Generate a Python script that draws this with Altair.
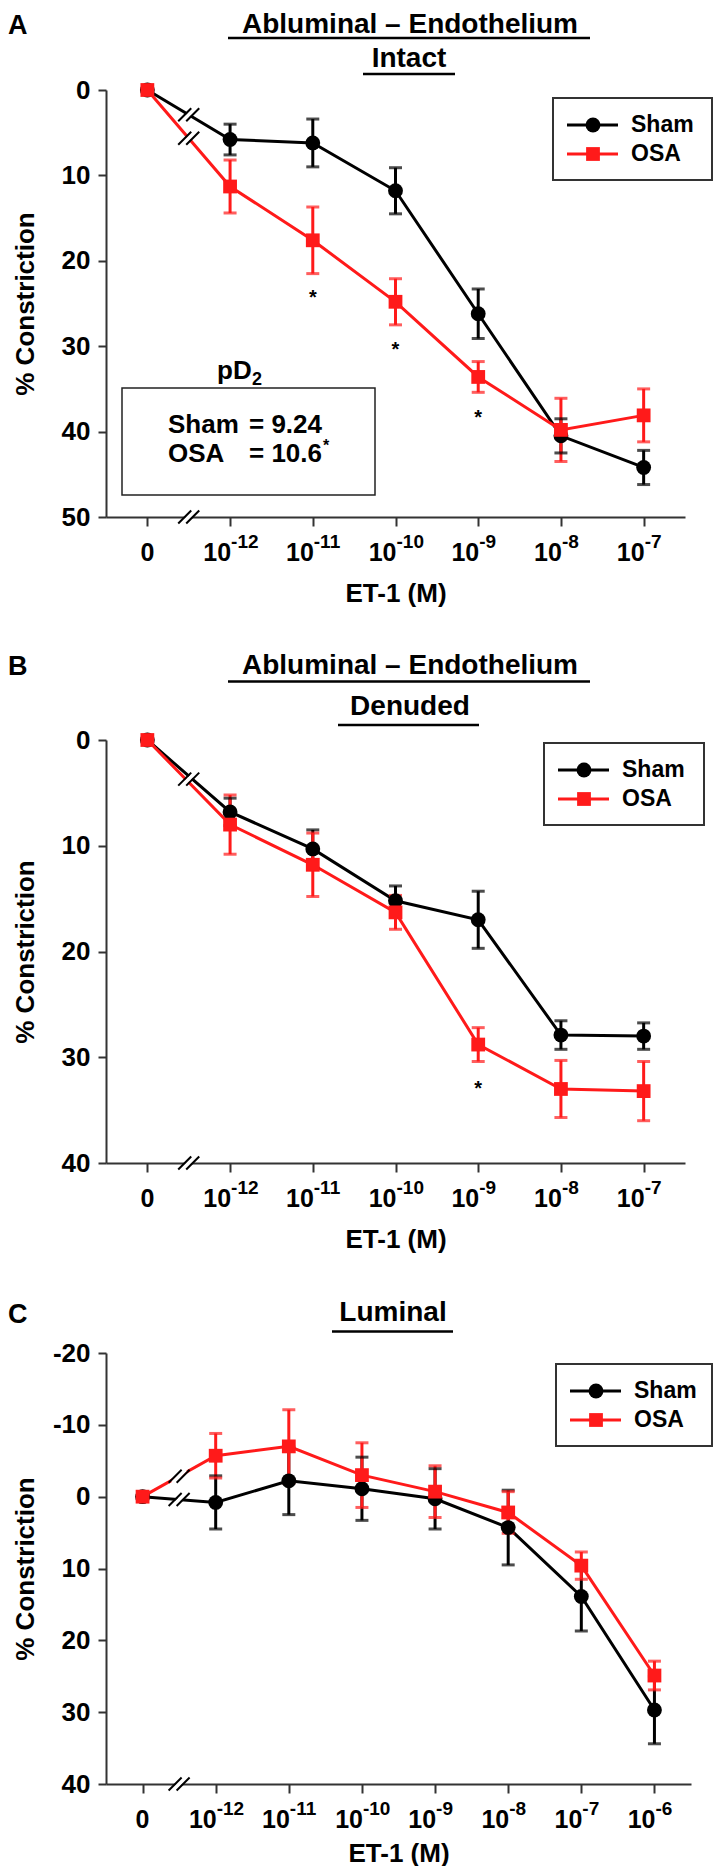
import altair as alt
import pandas as pd

FONT = "Liberation Sans"
RED = "#ff1a1a"
AXIS_COLOR = "#333333"

SERIES = ["Sham", "OSA"]
SERIES_COLORS = ["#000000", RED]
SERIES_SHAPES = ["circle", "square"]
MARK_SIZES = [220, 190]

# x categories: exponent of 10 ("" = zero concentration)
EXP_AB = ["", "-12", "-11", "-10", "-9", "-8", "-7"]
EXP_C = ["", "-12", "-11", "-10", "-9", "-8", "-7", "-6"]

# Panel A: abluminal, endothelium intact
A_SHAM = [0, 5.8, 6.2, 11.8, 26.2, 40.5, 44.2]
A_SHAM_SEM = [0, 1.8, 2.8, 2.7, 2.9, 2.0, 2.0]
A_OSA = [0, 11.3, 17.6, 24.8, 33.6, 39.8, 38.1]
A_OSA_SEM = [0, 3.1, 3.9, 2.7, 1.8, 3.7, 3.1]
A_STAR_IDX = [2, 3, 4]
A_STAR_Y = [23.8, 29.9, 37.8]
A_YTICKS = [0, 10, 20, 30, 40, 50]
A_PD2 = ["= 9.24", "= 10.6"]

# Panel B: abluminal, endothelium denuded
B_SHAM = [0, 6.8, 10.3, 15.2, 17.0, 27.9, 28.0]
B_SHAM_SEM = [0, 1.3, 1.8, 1.4, 2.7, 1.35, 1.25]
B_OSA = [0, 8.0, 11.8, 16.3, 28.8, 33.0, 33.2]
B_OSA_SEM = [0, 2.8, 3.0, 1.6, 1.6, 2.7, 2.8]
B_STAR_IDX = [4]
B_STAR_Y = [32.5]
B_YTICKS = [0, 10, 20, 30, 40]

# Panel C: luminal
C_SHAM = [0, 0.8, -2.2, -1.1, 0.3, 4.3, 13.9, 29.7]
C_SHAM_SEM = [0, 3.7, 4.7, 4.4, 4.2, 5.2, 4.8, 4.7]
C_OSA = [0, -5.7, -7.0, -3.0, -0.7, 2.2, 9.6, 24.9]
C_OSA_SEM = [0, 3.1, 5.1, 4.5, 3.6, 2.9, 1.9, 2.0]
C_YTICKS = [-20, -10, 0, 10, 20, 30, 40]

ONE = alt.Data(values=[{"k": 0}])


def note(text, x, y, size, align="center", baseline="middle"):
    return alt.Chart(ONE).mark_text(
        text=text, font=FONT, fontSize=size, fontWeight="bold",
        align=align, baseline=baseline, color="black"
    ).encode(x=alt.value(x), y=alt.value(y))


def hline(x1, x2, y, w=2.5, color="black"):
    return alt.Chart(ONE).mark_rule(color=color, strokeWidth=w).encode(
        x=alt.value(x1), x2=alt.value(x2), y=alt.value(y))


def legend_box(x0, y0, w=159, h=82):
    out = [alt.Chart(ONE).mark_rect(fill="white", stroke="#333333", strokeWidth=2).encode(
        x=alt.value(x0), x2=alt.value(x0 + w), y=alt.value(y0), y2=alt.value(y0 + h))]
    for k, (name, col, shp) in enumerate(zip(SERIES, SERIES_COLORS, SERIES_SHAPES)):
        yy = y0 + 27 + 29 * k
        out.append(hline(x0 + 14, x0 + 65, yy, w=3, color=col))
        out.append(alt.Chart(ONE).mark_point(
            shape=shp, filled=True, size=MARK_SIZES[k], color=col, opacity=1).encode(
            x=alt.value(x0 + 40), y=alt.value(yy)))
        out.append(alt.Chart(ONE).mark_text(
            text=name, font=FONT, fontSize=23, fontWeight="bold", color="black",
            align="left", baseline="middle").encode(
            x=alt.value(x0 + 78), y=alt.value(yy)))
    return out


def panel(sham, sham_sem, osa, osa_sem, exps, ydom, yticks, W, yrange,
          legend_xyw, star_idx, star_y, break_ys, annotations, under=(), xtitle_y=76):
    rows = []
    for name, m, s in ((SERIES[0], sham, sham_sem), (SERIES[1], osa, osa_sem)):
        for i, (v, e) in enumerate(zip(m, s)):
            rows.append({"series": name, "idx": i, "val": v,
                         "lo": v - e, "hi": v + e, "sem": e})
    df = pd.DataFrame(rows)
    ebdf = df[df["sem"] > 0]
    n = len(exps)
    H = yrange[1]

    xs = alt.Scale(domain=[-0.5, n - 0.5], nice=False, zero=False)
    ys = alt.Scale(domain=ydom, range=list(yrange), nice=False, zero=False)
    xaxis = alt.Axis(
        values=list(range(n)), labels=False, ticks=True, tickSize=9,
        tickWidth=2, tickColor=AXIS_COLOR, domainColor=AXIS_COLOR,
        domainWidth=2, grid=False, title="ET-1 (M)", titleFont=FONT,
        titleFontSize=26, titleFontWeight="bold", titleColor="black",
        titleY=xtitle_y, titleBaseline="middle")
    yaxis = alt.Axis(
        values=yticks, labelExpr="'' + datum.value", labelFont=FONT,
        labelFontSize=26, labelFontWeight="bold", labelColor="black",
        labelPadding=8, tickSize=8, tickWidth=2, tickColor=AXIS_COLOR,
        domainColor=AXIS_COLOR, domainWidth=2, grid=False,
        title="% Constriction", titleFont=FONT, titleFontSize=26,
        titleFontWeight="bold", titleColor="black", titleX=-81,
        titleY=(yrange[0] + yrange[1]) / 2, titleAngle=270, titleBaseline="middle")

    def X(f="idx"):
        return alt.X(f"{f}:Q", scale=xs, axis=xaxis)

    def Y(f="val"):
        return alt.Y(f"{f}:Q", scale=ys, axis=yaxis)

    color = alt.Color("series:N", scale=alt.Scale(domain=SERIES, range=SERIES_COLORS),
                      legend=None)

    layers = list(under)

    line = alt.Chart(df).mark_line(strokeWidth=3).encode(
        x=X(), y=Y(), color=color, order="idx:Q")
    layers.append(line)

    # axis / line break marks "//"
    bdf = pd.DataFrame({"bx": [0.5] * (len(break_ys) + 1),
                        "by": list(break_ys) + [ydom[1]]})
    brk = alt.Chart(bdf)
    benc = dict(x=X("bx"), x2="bx:Q", y=Y("by"), y2="by:Q")
    layers.append(brk.mark_rule(color="white", strokeWidth=4, xOffset=-6.5,
                                x2Offset=6.5, yOffset=6.5, y2Offset=-6.5).encode(**benc))
    layers.append(brk.mark_rule(color="black", strokeWidth=2, xOffset=-10.5,
                                x2Offset=2.5, yOffset=6.5, y2Offset=-6.5).encode(**benc))
    layers.append(brk.mark_rule(color="black", strokeWidth=2, xOffset=-2.5,
                                x2Offset=10.5, yOffset=6.5, y2Offset=-6.5).encode(**benc))

    eb = alt.Chart(ebdf)
    layers.append(eb.mark_rule(strokeWidth=3).encode(
        x=X(), y=Y("lo"), y2="hi:Q", color=color))
    layers.append(eb.mark_tick(orient="horizontal", size=13, thickness=3).encode(
        x=X(), y=Y("lo"), color=color))
    layers.append(eb.mark_tick(orient="horizontal", size=13, thickness=3).encode(
        x=X(), y=Y("hi"), color=color))

    pts = alt.Chart(df).mark_point(filled=True, opacity=1).encode(
        x=X(), y=Y(), color=color,
        shape=alt.Shape("series:N", scale=alt.Scale(domain=SERIES, range=SERIES_SHAPES),
                        legend=None),
        size=alt.Size("series:N", scale=alt.Scale(domain=SERIES, range=MARK_SIZES),
                      legend=None))
    layers.append(pts)

    if star_idx:
        sdf = pd.DataFrame({"sx": star_idx, "sy": star_y})
        layers.append(alt.Chart(sdf).mark_text(
            text="*", font=FONT, fontSize=20, fontWeight="bold", color="black",
            baseline="middle", dy=5).encode(x=X("sx"), y=Y("sy")))

    lab = pd.DataFrame({"idx": list(range(n)),
                        "base": ["0"] + ["10"] * (n - 1), "exp": exps})
    layers.append(alt.Chart(lab[lab["idx"] == 0]).mark_text(
        font=FONT, fontSize=25, fontWeight="bold", color="black",
        align="center", baseline="middle").encode(
        x=X(), y=alt.value(H + 35.5), text="base:N"))
    layers.append(alt.Chart(lab[lab["idx"] > 0]).mark_text(
        font=FONT, fontSize=25, fontWeight="bold", color="black",
        align="right", baseline="middle", dx=1).encode(
        x=X(), y=alt.value(H + 35.5), text="base:N"))
    layers.append(alt.Chart(lab[lab["idx"] > 0]).mark_text(
        font=FONT, fontSize=19, fontWeight="bold", color="black",
        align="left", baseline="middle", dx=1).encode(
        x=X(), y=alt.value(H + 24.5), text="exp:N"))

    layers.extend(legend_box(*legend_xyw))
    layers.extend(annotations)
    return alt.layer(*layers).properties(width=W, height=H)


def midpoints(a, b):
    return [(a[0] + a[1]) / 2.0, (b[0] + b[1]) / 2.0]


# ---------- Panel A (group top = page y 8) ----------
A_under = [
    hline(0, 1, 0.5, w=1, color="white"),  # keeps the panel's top edge at the page margin
    alt.Chart(ONE).mark_rect(fill="white", stroke="#222222", strokeWidth=1.5).encode(
        x=alt.value(16), x2=alt.value(269), y=alt.value(380), y2=alt.value(487)),
]
A_notes = [
    note("A", -98, 17.5, 27, align="left"),
    note("Abluminal \u2013 Endothelium", 304, 17, 28),
    hline(122, 484, 30),
    note("Intact", 303, 50.5, 28),
    hline(257, 349, 66),
    note("pD", 111, 363, 26, align="left"),
    note("2", 146, 372, 18, align="left"),
    note("Sham", 62, 417, 26, align="left"),
    note(A_PD2[0], 216, 417, 26, align="right"),
    note("OSA", 62, 446, 26, align="left"),
    note(A_PD2[1], 216, 446, 26, align="right"),
    note("*", 217, 438, 16, align="left"),
]
chartA = panel(A_SHAM, A_SHAM_SEM, A_OSA, A_OSA_SEM, EXP_AB, [0, 50], A_YTICKS,
               579, (82, 509), (447, 90, 159), A_STAR_IDX, A_STAR_Y,
               midpoints(A_SHAM, A_OSA), A_notes, A_under)

# ---------- Panel B (group top = page y 620) ----------
B_notes = [
    note("B", -98, 47, 27, align="left"),
    note("Abluminal \u2013 Endothelium", 304, 46, 28),
    hline(122, 484, 61.5),
    note("Denuded", 304, 87, 28),
    hline(232, 373, 105),
]
bm = midpoints(B_SHAM, B_OSA)
chartB = panel(B_SHAM, B_SHAM_SEM, B_OSA, B_OSA_SEM, EXP_AB, [0, 40], B_YTICKS,
               579, (120, 543), (438, 123, 160), B_STAR_IDX, B_STAR_Y,
               [sum(bm) / 2.0], B_notes)

# ---------- Panel C (group top = page y 1266) ----------
C_notes = [
    note("C", -98, 49, 27, align="left"),
    note("Luminal", 287, 47, 28),
    hline(226, 347, 65.5),
]
chartC = panel(C_SHAM, C_SHAM_SEM, C_OSA, C_OSA_SEM, EXP_C, [-20, 40], C_YTICKS,
               585, (87, 518), (450, 98, 156), [], [],
               midpoints(C_SHAM, C_OSA), C_notes, xtitle_y=69)

chart = alt.vconcat(chartA, chartB, chartC, spacing=103, bounds="flush").properties(
    padding=0, background="white"
).configure_view(strokeWidth=0)

chart.save("out.html", embed_options={"renderer": "svg", "actions": False})
